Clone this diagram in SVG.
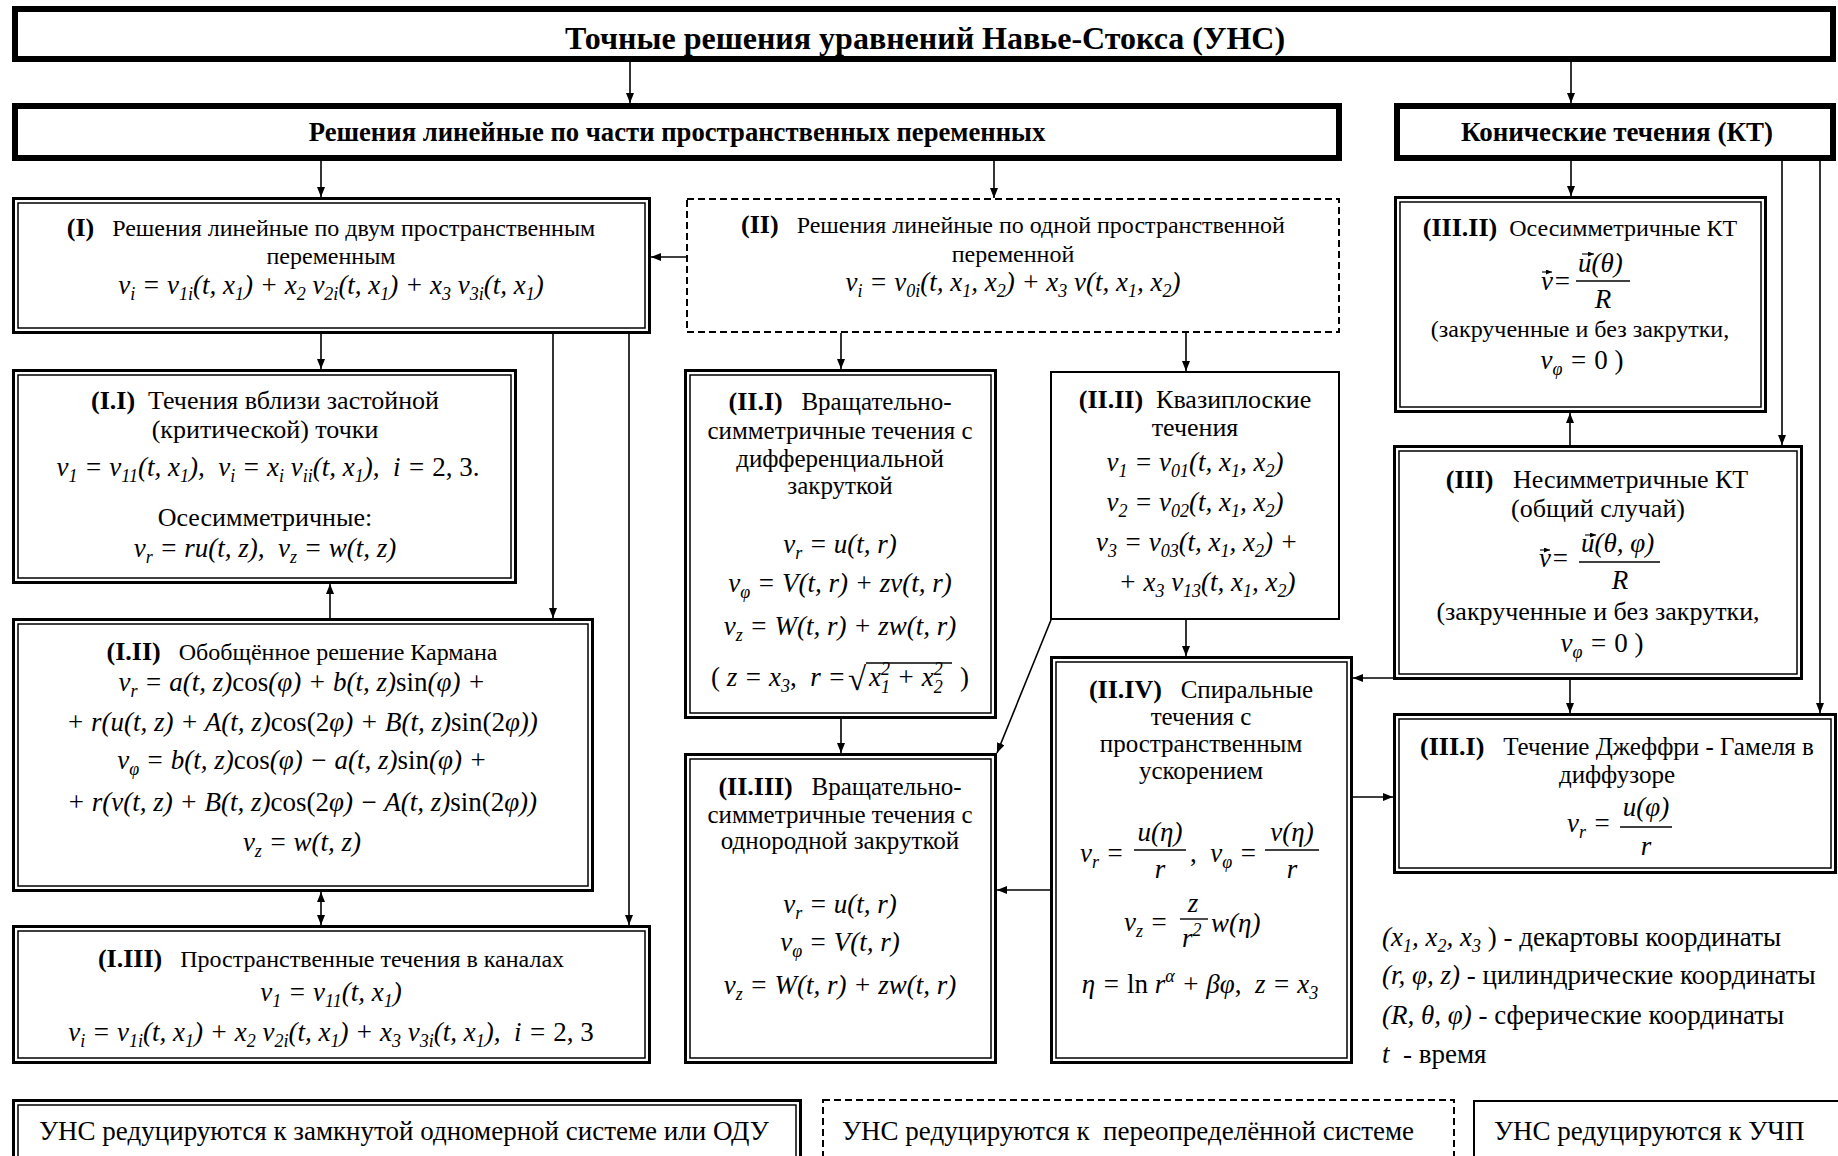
<svg xmlns="http://www.w3.org/2000/svg" width="1838" height="1156" viewBox="0 0 1838 1156">
<defs>
<marker id="ah" viewBox="0 0 10 8" refX="10" refY="4" markerWidth="10" markerHeight="8" markerUnits="userSpaceOnUse" orient="auto-start-reverse"><path d="M0,0L10,4L0,8z" fill="#000"/></marker>
<marker id="va" viewBox="0 0 6 5" refX="6" refY="2.5" markerWidth="6" markerHeight="5" markerUnits="userSpaceOnUse" orient="auto"><path d="M0,0L6,2.5L0,5z" fill="#000"/></marker>
</defs>
<style>
text{font-family:"Liberation Serif","Times New Roman",serif;fill:#000}
.lb{font-weight:bold;font-size:26px}
.hb{font-weight:bold}
.f{font-style:italic;font-size:27px}
.u{font-style:normal}
.s{font-size:18px}
.hd{fill:#fff;stroke:#000;stroke-width:6}
.o{fill:#fff;stroke:#000;stroke-width:3}
.in{fill:none;stroke:#000;stroke-width:1.5}
.sg{fill:#fff;stroke:#000;stroke-width:2}
.ds{fill:#fff;stroke:#000;stroke-width:2;stroke-dasharray:7 4}
.c line,.c path{stroke:#000;stroke-width:1.6;fill:none}
.fl{stroke:#000;stroke-width:1.4}
.vec{stroke:#000;stroke-width:1.1;fill:none}
</style>
<rect x="0" y="0" width="1838" height="1156" fill="#fff"/>

<g id="title">
<rect class="hd" x="15" y="9" width="1818" height="50"/>
<text class="hb" x="925" y="49" font-size="32" text-anchor="middle">Точные решения уравнений Навье-Стокса (УНС)</text>
</g>

<g id="linear">
<rect class="hd" x="15" y="106" width="1324" height="52"/>
<text class="hb" x="677" y="141" font-size="26.7" text-anchor="middle">Решения линейные по части пространственных переменных</text>
</g>

<g id="conic">
<rect class="hd" x="1397" y="106" width="436" height="52"/>
<text class="hb" x="1617" y="141" font-size="27" text-anchor="middle">Конические течения (КТ)</text>
</g>

<g id="n-I">
<rect class="o" x="13.5" y="198.5" width="636" height="134"/>
<rect class="in" x="18" y="203" width="627" height="125"/>
<text x="331" y="236" font-size="24" text-anchor="middle"><tspan class="lb">(I)</tspan>&#160;&#160; Решения линейные по двум пространственным</text>
<text x="331" y="264" font-size="24" text-anchor="middle">переменным</text>
<text class="f" x="331" y="294" text-anchor="middle">v<tspan class="s" dy="6">i</tspan><tspan dy="-6"> = v</tspan><tspan class="s" dy="6">1i</tspan><tspan dy="-6">(t, x</tspan><tspan class="s" dy="6">1</tspan><tspan dy="-6">) + x</tspan><tspan class="s" dy="6">2</tspan><tspan dy="-6"> v</tspan><tspan class="s" dy="6">2i</tspan><tspan dy="-6">(t, x</tspan><tspan class="s" dy="6">1</tspan><tspan dy="-6">) + x</tspan><tspan class="s" dy="6">3</tspan><tspan dy="-6"> v</tspan><tspan class="s" dy="6">3i</tspan><tspan dy="-6">(t, x</tspan><tspan class="s" dy="6">1</tspan><tspan dy="-6">)</tspan></text>
</g>

<g id="n-II">
<rect class="ds" x="687" y="199" width="652" height="133"/>
<text x="1013" y="233" font-size="24" text-anchor="middle"><tspan class="lb">(II)</tspan>&#160;&#160; Решения линейные по одной пространственной</text>
<text x="1013" y="262" font-size="24" text-anchor="middle">переменной</text>
<text class="f" x="1013" y="291" text-anchor="middle">v<tspan class="s" dy="6">i</tspan><tspan dy="-6"> = v</tspan><tspan class="s" dy="6">0i</tspan><tspan dy="-6">(t, x</tspan><tspan class="s" dy="6">1</tspan><tspan dy="-6">, x</tspan><tspan class="s" dy="6">2</tspan><tspan dy="-6">) + x</tspan><tspan class="s" dy="6">3</tspan><tspan dy="-6"> v(t, x</tspan><tspan class="s" dy="6">1</tspan><tspan dy="-6">, x</tspan><tspan class="s" dy="6">2</tspan><tspan dy="-6">)</tspan></text>
</g>

<g id="n-I-I">
<rect class="o" x="13.5" y="370.5" width="502" height="212"/>
<rect class="in" x="18" y="375" width="493" height="203"/>
<text x="265" y="409" font-size="26" text-anchor="middle"><tspan class="lb">(I.I)</tspan>&#160; Течения вблизи застойной</text>
<text x="265" y="438" font-size="26" text-anchor="middle">(критической) точки</text>
<text class="f" x="268" y="476" text-anchor="middle">v<tspan class="s" dy="6">1</tspan><tspan dy="-6"> = v</tspan><tspan class="s" dy="6">11</tspan><tspan dy="-6">(t, x</tspan><tspan class="s" dy="6">1</tspan><tspan dy="-6">),&#160; v</tspan><tspan class="s" dy="6">i</tspan><tspan dy="-6"> = x</tspan><tspan class="s" dy="6">i</tspan><tspan dy="-6"> v</tspan><tspan class="s" dy="6">ii</tspan><tspan dy="-6">(t, x</tspan><tspan class="s" dy="6">1</tspan><tspan dy="-6">),&#160; i = <tspan class="u">2, 3.</tspan></tspan></text>
<text x="265" y="526" font-size="26" text-anchor="middle">Осесимметричные:</text>
<text class="f" x="265" y="557" text-anchor="middle">v<tspan class="s" dy="6">r</tspan><tspan dy="-6"> = ru(t, z),&#160; v</tspan><tspan class="s" dy="6">z</tspan><tspan dy="-6"> = w(t, z)</tspan></text>
</g>

<g id="n-I-II">
<rect class="o" x="13.5" y="619.5" width="579" height="271"/>
<rect class="in" x="18" y="624" width="570" height="262"/>
<text x="302" y="660" font-size="24" text-anchor="middle"><tspan class="lb">(I.II)</tspan>&#160;&#160; Обобщённое решение Кармана</text>
<text class="f" x="302" y="691" text-anchor="middle">v<tspan class="s" dy="6">r</tspan><tspan dy="-6"> = a(t, z)<tspan class="u">cos</tspan>(φ) + b(t, z)<tspan class="u">sin</tspan>(φ) +</tspan></text>
<text class="f" x="302" y="731" text-anchor="middle">+ r(u(t, z) + A(t, z)<tspan class="u">cos(2</tspan>φ) + B(t, z)<tspan class="u">sin(2</tspan>φ))</text>
<text class="f" x="302" y="769" text-anchor="middle">v<tspan class="s" dy="6">φ</tspan><tspan dy="-6"> = b(t, z)<tspan class="u">cos</tspan>(φ) − a(t, z)<tspan class="u">sin</tspan>(φ) +</tspan></text>
<text class="f" x="302" y="811" text-anchor="middle">+ r(v(t, z) + B(t, z)<tspan class="u">cos(2</tspan>φ) − A(t, z)<tspan class="u">sin(2</tspan>φ))</text>
<text class="f" x="302" y="851" text-anchor="middle">v<tspan class="s" dy="6">z</tspan><tspan dy="-6"> = w(t, z)</tspan></text>
</g>

<g id="n-I-III">
<rect class="o" x="13.5" y="926.5" width="636" height="136"/>
<rect class="in" x="18" y="931" width="627" height="127"/>
<text x="331" y="967" font-size="24" text-anchor="middle"><tspan class="lb">(I.III)</tspan>&#160;&#160; Пространственные течения в каналах</text>
<text class="f" x="331" y="1001" text-anchor="middle">v<tspan class="s" dy="6">1</tspan><tspan dy="-6"> = v</tspan><tspan class="s" dy="6">11</tspan><tspan dy="-6">(t, x</tspan><tspan class="s" dy="6">1</tspan><tspan dy="-6">)</tspan></text>
<text class="f" x="331" y="1041" text-anchor="middle">v<tspan class="s" dy="6">i</tspan><tspan dy="-6"> = v</tspan><tspan class="s" dy="6">1i</tspan><tspan dy="-6">(t, x</tspan><tspan class="s" dy="6">1</tspan><tspan dy="-6">) + x</tspan><tspan class="s" dy="6">2</tspan><tspan dy="-6"> v</tspan><tspan class="s" dy="6">2i</tspan><tspan dy="-6">(t, x</tspan><tspan class="s" dy="6">1</tspan><tspan dy="-6">) + x</tspan><tspan class="s" dy="6">3</tspan><tspan dy="-6"> v</tspan><tspan class="s" dy="6">3i</tspan><tspan dy="-6">(t, x</tspan><tspan class="s" dy="6">1</tspan><tspan dy="-6">),&#160; i = <tspan class="u">2, 3</tspan></tspan></text>
</g>

<g id="n-II-I">
<rect class="o" x="685.5" y="370.5" width="310" height="347"/>
<rect class="in" x="690" y="375" width="301" height="338"/>
<text x="840" y="410" font-size="25" text-anchor="middle"><tspan class="lb">(II.I)</tspan>&#160;&#160; Вращательно-</text>
<text x="840" y="439" font-size="25" text-anchor="middle">симметричные течения с</text>
<text x="840" y="467" font-size="25" text-anchor="middle">дифференциальной</text>
<text x="840" y="494" font-size="25" text-anchor="middle">закруткой</text>
<text class="f" x="840" y="553" text-anchor="middle">v<tspan class="s" dy="6">r</tspan><tspan dy="-6"> = u(t, r)</tspan></text>
<text class="f" x="840" y="592" text-anchor="middle">v<tspan class="s" dy="6">φ</tspan><tspan dy="-6"> = V(t, r) + zv(t, r)</tspan></text>
<text class="f" x="840" y="635" text-anchor="middle">v<tspan class="s" dy="6">z</tspan><tspan dy="-6"> = W(t, r) + zw(t, r)</tspan></text>
<text class="f" x="711" y="686"><tspan class="u">(</tspan> z = x<tspan class="s" dy="6">3</tspan><tspan dy="-6" class="u">,</tspan>&#160; r =</text>
<text x="848" y="690" font-size="33">√</text>
<line class="fl" x1="866" y1="663" x2="952" y2="663"/>
<text class="f" x="869" y="686">x<tspan class="s" dy="7">1</tspan><tspan class="s" dx="-9" dy="-18">2</tspan><tspan dy="11"> + x</tspan><tspan class="s" dy="7">2</tspan><tspan class="s" dx="-9" dy="-18">2</tspan></text>
<text x="960" y="686" font-size="27">)</text>
</g>

<g id="n-II-II">
<rect class="sg" x="1051" y="372" width="288" height="247"/>
<text x="1195" y="408" font-size="26" text-anchor="middle"><tspan class="lb">(II.II)</tspan>&#160; Квазиплоские</text>
<text x="1195" y="436" font-size="26" text-anchor="middle">течения</text>
<text class="f" x="1195" y="471" text-anchor="middle">v<tspan class="s" dy="6">1</tspan><tspan dy="-6"> = v</tspan><tspan class="s" dy="6">01</tspan><tspan dy="-6">(t, x</tspan><tspan class="s" dy="6">1</tspan><tspan dy="-6">, x</tspan><tspan class="s" dy="6">2</tspan><tspan dy="-6">)</tspan></text>
<text class="f" x="1195" y="511" text-anchor="middle">v<tspan class="s" dy="6">2</tspan><tspan dy="-6"> = v</tspan><tspan class="s" dy="6">02</tspan><tspan dy="-6">(t, x</tspan><tspan class="s" dy="6">1</tspan><tspan dy="-6">, x</tspan><tspan class="s" dy="6">2</tspan><tspan dy="-6">)</tspan></text>
<text class="f" x="1197" y="551" text-anchor="middle">v<tspan class="s" dy="6">3</tspan><tspan dy="-6"> = v</tspan><tspan class="s" dy="6">03</tspan><tspan dy="-6">(t, x</tspan><tspan class="s" dy="6">1</tspan><tspan dy="-6">, x</tspan><tspan class="s" dy="6">2</tspan><tspan dy="-6">) +</tspan></text>
<text class="f" x="1207" y="591" text-anchor="middle">+ x<tspan class="s" dy="6">3</tspan><tspan dy="-6"> v</tspan><tspan class="s" dy="6">13</tspan><tspan dy="-6">(t, x</tspan><tspan class="s" dy="6">1</tspan><tspan dy="-6">, x</tspan><tspan class="s" dy="6">2</tspan><tspan dy="-6">)</tspan></text>
</g>

<g id="n-II-III">
<rect class="o" x="685.5" y="754.5" width="310" height="308"/>
<rect class="in" x="690" y="759" width="301" height="299"/>
<text x="840" y="795" font-size="25" text-anchor="middle"><tspan class="lb">(II.III)</tspan>&#160;&#160; Вращательно-</text>
<text x="840" y="823" font-size="25" text-anchor="middle">симметричные течения с</text>
<text x="840" y="849" font-size="25" text-anchor="middle">однородной закруткой</text>
<text class="f" x="840" y="913" text-anchor="middle">v<tspan class="s" dy="6">r</tspan><tspan dy="-6"> = u(t, r)</tspan></text>
<text class="f" x="840" y="951" text-anchor="middle">v<tspan class="s" dy="6">φ</tspan><tspan dy="-6"> = V(t, r)</tspan></text>
<text class="f" x="840" y="994" text-anchor="middle">v<tspan class="s" dy="6">z</tspan><tspan dy="-6"> = W(t, r) + zw(t, r)</tspan></text>
</g>

<g id="n-II-IV">
<rect class="o" x="1051.5" y="657.5" width="300" height="405"/>
<rect class="in" x="1056" y="662" width="291" height="396"/>
<text x="1201" y="698" font-size="25" text-anchor="middle"><tspan class="lb">(II.IV)</tspan>&#160;&#160; Спиральные</text>
<text x="1201" y="725" font-size="25" text-anchor="middle">течения с</text>
<text x="1201" y="752" font-size="25" text-anchor="middle">пространственным</text>
<text x="1201" y="779" font-size="25" text-anchor="middle">ускорением</text>
<text class="f" x="1080" y="862">v<tspan class="s" dy="6">r</tspan><tspan dy="-6"> =</tspan></text>
<text class="f" x="1160" y="841" font-size="29" text-anchor="middle">u(η)</text>
<line class="fl" x1="1134" y1="850" x2="1186" y2="850"/>
<text class="f" x="1160" y="878" font-size="29" text-anchor="middle">r</text>
<text class="f" x="1190" y="862"><tspan class="u">,</tspan>&#160; v<tspan class="s" dy="6">φ</tspan><tspan dy="-6"> =</tspan></text>
<text class="f" x="1292" y="841" font-size="29" text-anchor="middle">v(η)</text>
<line class="fl" x1="1265" y1="850" x2="1319" y2="850"/>
<text class="f" x="1292" y="878" font-size="29" text-anchor="middle">r</text>
<text class="f" x="1124" y="931">v<tspan class="s" dy="6">z</tspan><tspan dy="-6"> =</tspan></text>
<text class="f" x="1193" y="912" text-anchor="middle">z</text>
<line class="fl" x1="1180" y1="919" x2="1208" y2="919"/>
<text class="f" x="1182" y="947">r<tspan class="s" dy="-11">2</tspan></text>
<text class="f" x="1211" y="932" font-size="28">w(η)</text>
<text class="f" x="1200" y="993" text-anchor="middle">η = <tspan class="u">ln</tspan> r<tspan class="s" dy="-11">α</tspan><tspan dy="11"> + βφ</tspan><tspan class="u">,</tspan>&#160; z = x<tspan class="s" dy="6">3</tspan></text>
</g>

<g id="n-III-II">
<rect class="o" x="1395.5" y="197.5" width="370" height="214"/>
<rect class="in" x="1400" y="202" width="361" height="205"/>
<text x="1580" y="236" font-size="24" text-anchor="middle"><tspan class="lb">(III.II)</tspan>&#160; Осесимметричные КТ</text>
<text class="f" x="1541" y="290" font-size="29">v=</text>
<path class="vec" d="M1542,272h10" marker-end="url(#va)"/>
<text class="f" x="1578" y="272" font-size="30">u(θ)</text>
<path class="vec" d="M1582,254h12" marker-end="url(#va)"/>
<line class="fl" x1="1576" y1="281" x2="1630" y2="281"/>
<text class="f" x="1603" y="308" font-size="30" text-anchor="middle">R</text>
<text x="1580" y="337" font-size="24" text-anchor="middle">(закрученные и без закрутки,</text>
<text class="f" x="1582" y="369" text-anchor="middle">v<tspan class="s" dy="6">φ</tspan><tspan dy="-6"> = </tspan><tspan class="u">0 )</tspan></text>
</g>

<g id="n-III">
<rect class="o" x="1394.5" y="446.5" width="407" height="232"/>
<rect class="in" x="1399" y="451" width="398" height="223"/>
<text x="1597" y="488" font-size="26" text-anchor="middle"><tspan class="lb">(III)</tspan>&#160;&#160; Несимметричные КТ</text>
<text x="1598" y="517" font-size="26" text-anchor="middle">(общий случай)</text>
<text class="f" x="1539" y="567" font-size="28">v=</text>
<path class="vec" d="M1540,550h10" marker-end="url(#va)"/>
<text class="f" x="1581" y="552" font-size="28">u(θ, φ)</text>
<path class="vec" d="M1585,535h11" marker-end="url(#va)"/>
<line class="fl" x1="1579" y1="562" x2="1660" y2="562"/>
<text class="f" x="1620" y="589" font-size="28" text-anchor="middle">R</text>
<text x="1598" y="620" font-size="26" text-anchor="middle">(закрученные и без закрутки,</text>
<text class="f" x="1602" y="652" text-anchor="middle">v<tspan class="s" dy="6">φ</tspan><tspan dy="-6"> = </tspan><tspan class="u">0 )</tspan></text>
</g>

<g id="n-III-I">
<rect class="o" x="1394.5" y="714.5" width="441" height="158"/>
<rect class="in" x="1399" y="719" width="432" height="149"/>
<text x="1617" y="755" font-size="25" text-anchor="middle"><tspan class="lb">(III.I)</tspan>&#160;&#160; Течение Джеффри - Гамеля в</text>
<text x="1617" y="783" font-size="25" text-anchor="middle">диффузоре</text>
<text class="f" x="1567" y="832">v<tspan class="s" dy="6">r</tspan><tspan dy="-6"> =</tspan></text>
<text class="f" x="1646" y="816" font-size="28" text-anchor="middle">u(φ)</text>
<line class="fl" x1="1620" y1="827" x2="1672" y2="827"/>
<text class="f" x="1646" y="855" font-size="28" text-anchor="middle">r</text>
</g>

<g id="legend">
<text x="1382" y="946" font-size="27"><tspan class="f">(x</tspan><tspan class="f s" dy="6">1</tspan><tspan class="f" dy="-6">, x</tspan><tspan class="f s" dy="6">2</tspan><tspan class="f" dy="-6">, x</tspan><tspan class="f s" dy="6">3</tspan><tspan dy="-6"> ) - декартовы координаты</tspan></text>
<text x="1382" y="984" font-size="27"><tspan class="f">(r, φ, z)</tspan> - цилиндрические координаты</text>
<text x="1382" y="1024" font-size="27"><tspan class="f">(R, θ, φ)</tspan> - сферические координаты</text>
<text x="1382" y="1063" font-size="27"><tspan class="f">t</tspan>&#160; - время</text>
</g>

<g id="b-ode">
<rect class="o" x="13.5" y="1100.5" width="787" height="97"/>
<rect class="in" x="18" y="1105" width="778" height="88"/>
<text x="39" y="1140" font-size="27">УНС редуцируются к замкнутой одномерной системе или ОДУ</text>
</g>
<g id="b-over">
<rect class="ds" x="823" y="1100" width="631" height="80"/>
<text x="842" y="1140" font-size="27">УНС редуцируются к&#160; переопределённой системе</text>
</g>
<g id="b-pde">
<rect class="sg" x="1474" y="1101" width="370" height="80"/>
<text x="1494" y="1140" font-size="27">УНС редуцируются к УЧП</text>
</g>

<g id="connectors" class="c">
<line x1="630" y1="62" x2="630" y2="103" marker-end="url(#ah)"/>
<line x1="1571" y1="62" x2="1571" y2="103" marker-end="url(#ah)"/>
<line x1="321" y1="161" x2="321" y2="197" marker-end="url(#ah)"/>
<line x1="994" y1="161" x2="994" y2="198" marker-end="url(#ah)"/>
<line x1="1571" y1="161" x2="1571" y2="196" marker-end="url(#ah)"/>
<line x1="1782" y1="161" x2="1782" y2="445" marker-end="url(#ah)"/>
<line x1="1820" y1="161" x2="1820" y2="713" marker-end="url(#ah)"/>
<line x1="686" y1="257" x2="651" y2="257" marker-end="url(#ah)"/>
<line x1="321" y1="334" x2="321" y2="369" marker-end="url(#ah)"/>
<line x1="553" y1="334" x2="553" y2="618" marker-end="url(#ah)"/>
<line x1="629" y1="334" x2="629" y2="925" marker-end="url(#ah)"/>
<line x1="330" y1="618" x2="330" y2="584" marker-end="url(#ah)"/>
<line x1="321" y1="892" x2="321" y2="925" marker-start="url(#ah)" marker-end="url(#ah)"/>
<line x1="841" y1="333" x2="841" y2="369" marker-end="url(#ah)"/>
<line x1="1186" y1="333" x2="1186" y2="371" marker-end="url(#ah)"/>
<line x1="841" y1="719" x2="841" y2="753" marker-end="url(#ah)"/>
<line x1="1051" y1="620" x2="997" y2="753" marker-end="url(#ah)"/>
<line x1="1186" y1="620" x2="1186" y2="656" marker-end="url(#ah)"/>
<line x1="1050" y1="890" x2="997" y2="890" marker-end="url(#ah)"/>
<line x1="1353" y1="797" x2="1393" y2="797" marker-end="url(#ah)"/>
<line x1="1393" y1="678" x2="1353" y2="678" marker-end="url(#ah)"/>
<line x1="1570" y1="445" x2="1570" y2="413" marker-end="url(#ah)"/>
<line x1="1570" y1="680" x2="1570" y2="713" marker-end="url(#ah)"/>
</g>
</svg>
